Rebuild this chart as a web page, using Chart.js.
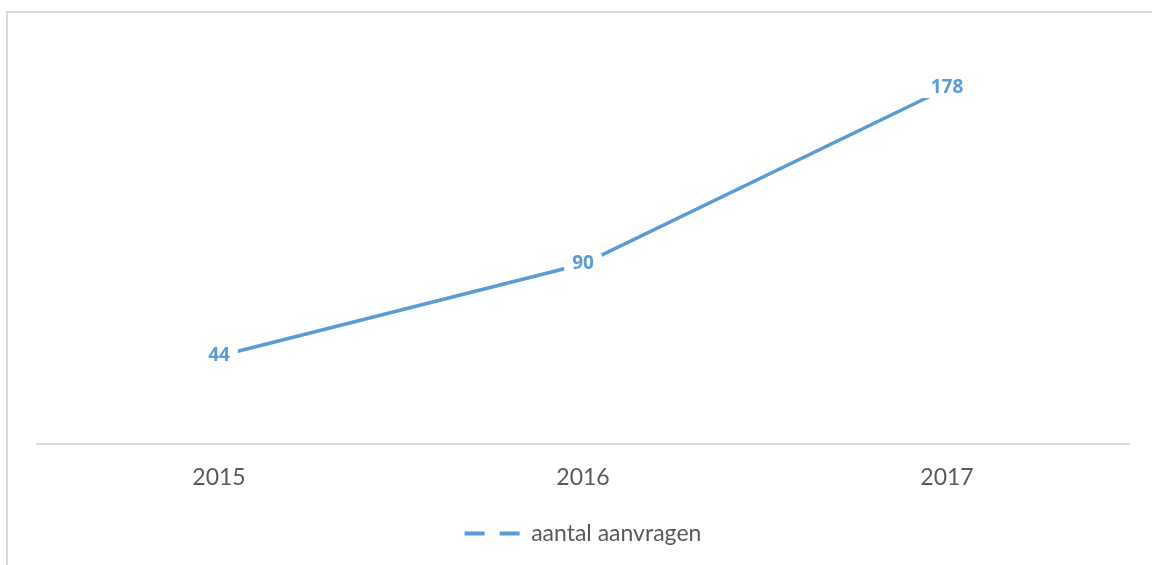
<!DOCTYPE html>
<html>
<head>
<meta charset="utf-8">
<script src="https://cdn.jsdelivr.net/npm/chart.js@4.4.1/dist/chart.umd.min.js"></script>
<style>
  html, body { margin: 0; padding: 0; background: #fff; }
  #wrap { position: relative; width: 1152px; height: 565px; }
  #frame {
    position: absolute; left: 6px; top: 11px; width: 1200px; height: 600px;
    border-top: 2px solid #d9d9d9; border-left: 2px solid #d9d9d9;
    pointer-events: none;
  }
</style>
</head>
<body>
<div id="wrap">
  <canvas id="chart" width="1152" height="565"></canvas>
  <div id="frame"></div>
</div>
<script>
const years = ['2015', '2016', '2017'];
const aanvragen = [44, 90, 178];
const seriesName = 'aantal aanvragen';

const lineColor = '#5b9bd5';

// value labels on a white box, centred on each point
const valueLabels = {
  id: 'valueLabels',
  afterDatasetsDraw(chart) {
    const ctx = chart.ctx;
    const meta = chart.getDatasetMeta(0);
    ctx.save();
    ctx.font = 'bold 19px "Open Sans"';
    ctx.textAlign = 'center';
    ctx.textBaseline = 'middle';
    meta.data.forEach((pt, i) => {
      const txt = String(chart.data.datasets[0].data[i]);
      const w = ctx.measureText(txt).width;
      ctx.fillStyle = '#ffffff';
      ctx.fillRect(pt.x - w / 2 - 8, pt.y - 10, w + 16, 20);
      ctx.fillStyle = lineColor;
      ctx.fillText(txt, pt.x, pt.y);
    });
    ctx.restore();
  }
};

new Chart(document.getElementById('chart'), {
  type: 'line',
  data: {
    labels: years,
    datasets: [{
      label: seriesName,
      data: aanvragen,
      borderColor: lineColor,
      backgroundColor: lineColor,
      borderWidth: 3.5,
      pointRadius: 0,
      tension: 0
    }]
  },
  options: {
    responsive: false,
    animation: false,
    layout: { padding: { top: 44, left: 37, right: 23, bottom: 10 } },
    plugins: {
      tooltip: { enabled: false },
      legend: {
        position: 'bottom',
        labels: {
          usePointStyle: true,
          pointStyle: 'line',
          pointStyleWidth: 55,
          color: '#595959',
          font: { family: 'Lato', size: 23 },
          padding: 11,
          generateLabels: function(chart) {
            return chart.data.datasets.map((ds, i) => ({
              text: ds.label,
              fillStyle: lineColor,
              strokeStyle: lineColor,
              lineWidth: 4,
              lineDash: [20, 15],
              pointStyle: 'line',
              fontColor: '#595959',
              datasetIndex: i
            }));
          }
        }
      }
    },
    scales: {
      x: {
        offset: true,
        grid: { display: false, drawTicks: false },
        border: { display: true, color: '#d9d9d9', width: 2 },
        ticks: {
          color: '#595959',
          padding: 22,
          font: { family: 'Lato', size: 23, lineHeight: 1.0 }
        }
      },
      y: {
        display: false,
        min: 0,
        max: 200
      }
    }
  },
  plugins: [valueLabels]
});
</script>
</body>
</html>
